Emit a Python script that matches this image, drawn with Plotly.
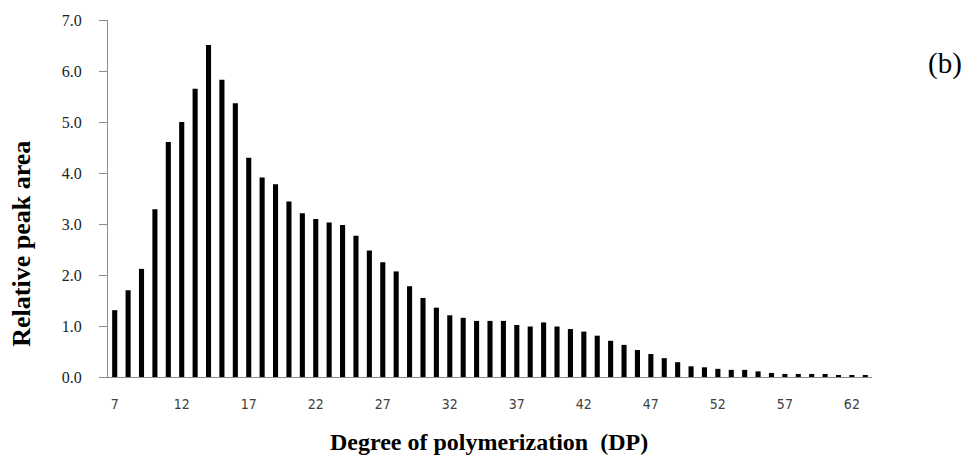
import plotly.graph_objects as go

# Degree of polymerization and relative peak area of each oligomer
dp = list(range(7, 64))
peak_area = [
    1.31, 1.70, 2.12, 3.29, 4.61, 5.00, 5.65, 6.51, 5.83, 5.37,
    4.30, 3.91, 3.78, 3.44, 3.21, 3.10, 3.03, 2.98, 2.77, 2.48,
    2.25, 2.07, 1.78, 1.55, 1.36, 1.21, 1.16, 1.10, 1.10, 1.10,
    1.02, 0.99, 1.07, 0.99, 0.94, 0.89, 0.81, 0.71, 0.63, 0.53,
    0.45, 0.37, 0.29, 0.21, 0.19, 0.16, 0.14, 0.14, 0.11, 0.08,
    0.06, 0.06, 0.06, 0.06, 0.03, 0.03, 0.03,
]
x_ticks = list(range(7, 63, 5))
y_ticks = [0, 1, 2, 3, 4, 5, 6, 7]
y_tick_text = [f"{v:.1f}" for v in y_ticks]

axis_grey = "#8c8c8c"
serif = "Liberation Serif"
narrow_sans = "Liberation Sans Narrow, DejaVu Sans Condensed, Liberation Sans, sans-serif"

fig = go.Figure(
    go.Bar(x=dp, y=peak_area, width=0.38, marker=dict(color="black", line=dict(width=0)))
)

fig.update_layout(
    width=975,
    height=471,
    margin=dict(l=108, r=103, t=18, b=94),
    paper_bgcolor="white",
    plot_bgcolor="white",
    showlegend=False,
    xaxis=dict(
        range=[6.5, 63.5],
        tickvals=x_ticks,
        ticktext=[str(v) for v in x_ticks],
        ticks="",
        showgrid=False,
        zeroline=False,
        showline=True,
        linecolor=axis_grey,
        linewidth=1,
        ticklabelstandoff=14,
        tickfont=dict(family=narrow_sans, size=14, color="#404040"),
    ),
    yaxis=dict(
        range=[0, 7],
        tickvals=y_ticks,
        ticktext=y_tick_text,
        ticks="outside",
        ticklen=8,
        tickcolor=axis_grey,
        showgrid=False,
        zeroline=False,
        showline=True,
        linecolor=axis_grey,
        linewidth=1,
        ticklabelstandoff=14,
        tickfont=dict(family=serif, size=16, color="#222222"),
    ),
    annotations=[
        dict(
            text="<b>Relative peak area</b>",
            xref="paper", yref="paper",
            x=(22 - 108) / 764, y=(377 - 243) / 359,
            xanchor="center", yanchor="middle",
            textangle=-90, showarrow=False,
            font=dict(family=serif, size=26, color="black"),
        ),
        dict(
            text="<b>Degree of polymerization &nbsp;(DP)</b>",
            xref="paper", yref="paper",
            x=(489 - 108) / 764, y=-(442 - 377) / 359,
            xanchor="center", yanchor="middle",
            showarrow=False,
            font=dict(family=serif, size=24, color="black"),
        ),
        dict(
            text="(b)",
            xref="paper", yref="paper",
            x=(945 - 108) / 764, y=(377 - 62) / 359,
            xanchor="center", yanchor="middle",
            showarrow=False,
            font=dict(family=serif, size=29, color="black"),
        ),
    ],
)

fig.write_html("out.html")
